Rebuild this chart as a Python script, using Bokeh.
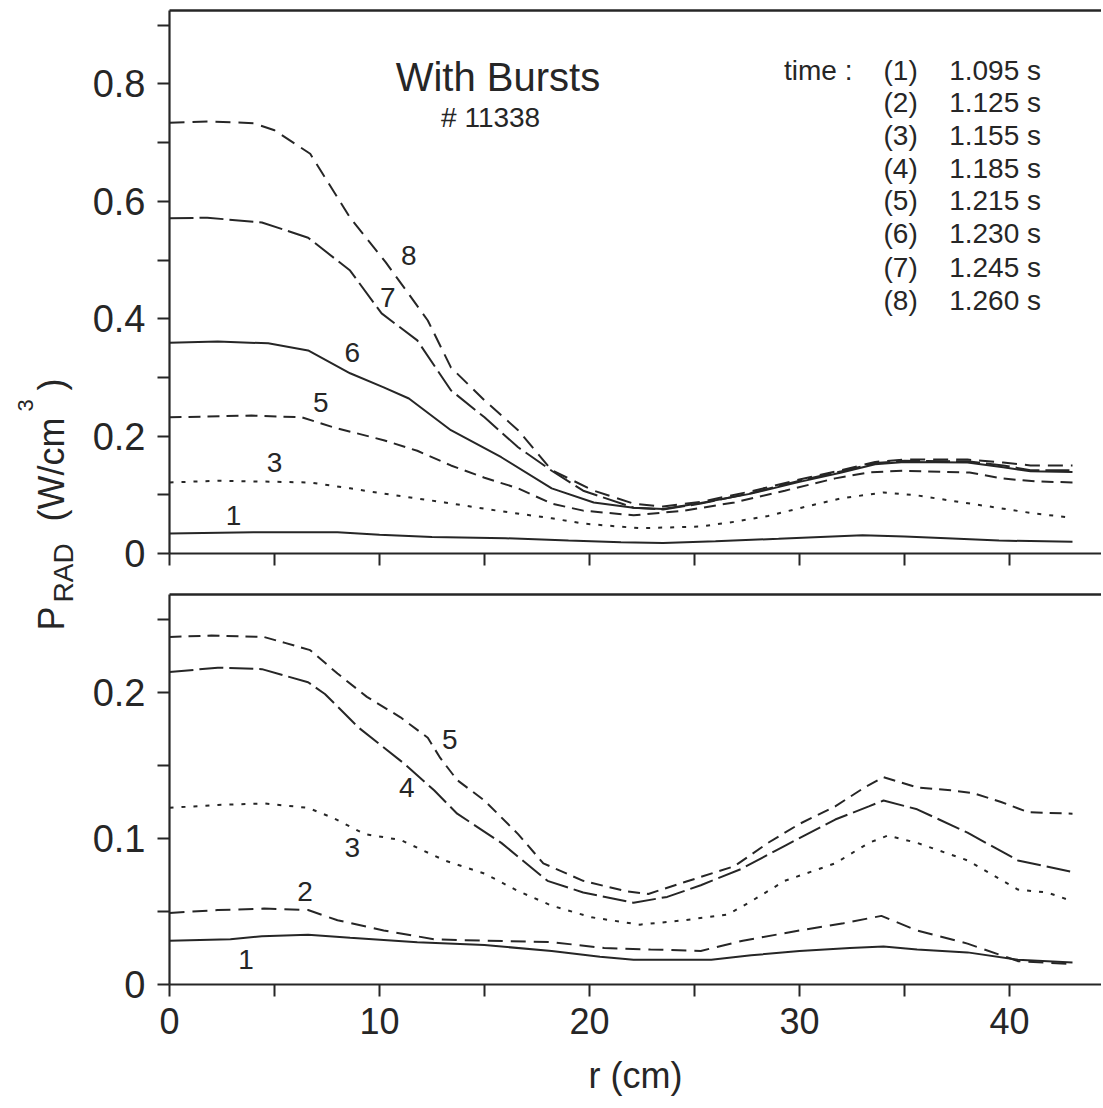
import math
from bokeh.plotting import figure
from bokeh.models import Range1d, FixedTicker, LinearAxis, CustomJSTickFormatter
from bokeh.layouts import row, column
from bokeh.core.properties import value
from bokeh.embed import file_html
from bokeh.resources import INLINE

# ---------------- data ----------------
# top panel: "With Bursts", shot 11338 ; r in cm, P_RAD in W/cm^3
r_t1 = [0, 4, 8, 10, 12.5, 16, 19, 21.5, 23.5, 26, 29, 33, 35, 37, 39.5, 43]
p_t1 = [0.034, 0.036, 0.036, 0.032, 0.028, 0.026, 0.022, 0.019, 0.018, 0.021, 0.025, 0.031, 0.029, 0.026, 0.022, 0.020]

r_t3 = [0, 2.3, 6.7, 8.6, 10.2, 13.1, 15.6, 18.2, 19.7, 22.4, 25.3, 26.9, 28.5, 30.1, 32, 34, 35.6, 37.2, 39.6, 41.2, 43]
p_t3 = [0.121, 0.124, 0.121, 0.111, 0.102, 0.087, 0.073, 0.060, 0.051, 0.043, 0.046, 0.054, 0.064, 0.078, 0.094, 0.104, 0.099, 0.090, 0.077, 0.068, 0.061]

r_t5 = [0, 3.9, 6.3, 7.8, 10.2, 11.8, 13.4, 15, 16.6, 18.2, 19.7, 22.1, 24.5, 26.9, 29.3, 31.7, 33.3, 34.9, 38.1, 39.6, 41.2, 43]
p_t5 = [0.232, 0.235, 0.232, 0.215, 0.193, 0.175, 0.150, 0.129, 0.111, 0.085, 0.073, 0.065, 0.073, 0.087, 0.107, 0.128, 0.138, 0.141, 0.138, 0.128, 0.123, 0.121]

r_t6 = [0, 2.3, 4.7, 6.6, 8.6, 10.2, 11.4, 13.4, 15.8, 18.2, 20.2, 22.1, 23.5, 25.3, 27.7, 30, 32, 33.6, 35, 38, 39.7, 41, 43]
p_t6 = [0.359, 0.361, 0.358, 0.346, 0.307, 0.283, 0.264, 0.210, 0.164, 0.111, 0.087, 0.078, 0.076, 0.086, 0.102, 0.122, 0.138, 0.152, 0.156, 0.155, 0.147, 0.140, 0.139]

r_t7 = [0, 1.8, 4.4, 6.6, 8.6, 10.1, 11.8, 13.4, 15, 16.6, 18.2, 19.7, 22.1, 23.5, 25.3, 27.7, 30, 32, 33.6, 35, 38, 39.7, 41, 43]
p_t7 = [0.571, 0.572, 0.564, 0.538, 0.482, 0.409, 0.363, 0.278, 0.232, 0.181, 0.141, 0.107, 0.078, 0.075, 0.085, 0.103, 0.124, 0.140, 0.154, 0.158, 0.157, 0.150, 0.142, 0.142]

r_t8 = [0, 2, 4, 5, 6.7, 8.6, 10.3, 12.3, 13.4, 15, 16.6, 18.2, 20.2, 22.1, 23.5, 25.3, 27.7, 30, 32, 33.6, 35, 38, 39.7, 41, 43]
p_t8 = [0.734, 0.736, 0.733, 0.721, 0.681, 0.572, 0.496, 0.397, 0.317, 0.261, 0.210, 0.142, 0.107, 0.085, 0.080, 0.088, 0.106, 0.126, 0.142, 0.156, 0.160, 0.160, 0.155, 0.150, 0.150]

# bottom panel
r_b1 = [0, 2.9, 4.4, 6.6, 8.6, 11.8, 15, 18.2, 20.5, 22.1, 25.8, 27.7, 30, 32.4, 34, 35.6, 38, 40.4, 43]
p_b1 = [0.030, 0.031, 0.033, 0.034, 0.032, 0.029, 0.027, 0.023, 0.019, 0.017, 0.017, 0.020, 0.023, 0.025, 0.026, 0.024, 0.022, 0.017, 0.015]

r_b2 = [0, 2.3, 4.5, 6.6, 8, 10.2, 12.6, 15, 18.2, 20.7, 22.9, 25.3, 27.3, 30, 32.1, 33.9, 35.6, 38, 40.4, 43]
p_b2 = [0.049, 0.051, 0.052, 0.051, 0.044, 0.037, 0.031, 0.030, 0.029, 0.025, 0.024, 0.023, 0.030, 0.037, 0.042, 0.047, 0.037, 0.028, 0.016, 0.014]

r_b3 = [0, 2.3, 4.5, 6.6, 7.8, 9.3, 11, 13.1, 15, 16.6, 18.2, 20.1, 22.4, 24.5, 26.6, 27.7, 29.3, 31.7, 33.3, 34.2, 35.6, 38, 40.4, 41.8, 43]
p_b3 = [0.121, 0.123, 0.124, 0.121, 0.114, 0.103, 0.099, 0.085, 0.076, 0.064, 0.054, 0.046, 0.041, 0.044, 0.048, 0.057, 0.071, 0.083, 0.097, 0.102, 0.097, 0.085, 0.065, 0.063, 0.057]

r_b4 = [0, 2.3, 4.4, 6.6, 7.4, 9, 11.2, 12.6, 13.7, 15.8, 18, 19.7, 22.1, 23.7, 25.3, 27.2, 29.3, 31.7, 33.3, 34, 35.6, 38, 40.4, 43]
p_b4 = [0.214, 0.217, 0.216, 0.207, 0.199, 0.176, 0.151, 0.133, 0.117, 0.097, 0.071, 0.063, 0.056, 0.060, 0.068, 0.079, 0.095, 0.113, 0.122, 0.126, 0.120, 0.104, 0.085, 0.077]

r_b5 = [0, 2, 4.5, 5.5, 6.7, 8, 9.4, 11, 12.3, 12.9, 13.7, 15, 16.6, 17.8, 19.7, 21.7, 22.8, 24.5, 26.9, 28.5, 30, 31.7, 33.1, 34, 35.6, 37.2, 38.3, 39.6, 40.9, 43]
p_b5 = [0.238, 0.239, 0.238, 0.234, 0.229, 0.213, 0.197, 0.183, 0.169, 0.155, 0.140, 0.126, 0.103, 0.083, 0.071, 0.064, 0.062, 0.070, 0.081, 0.097, 0.110, 0.122, 0.135, 0.142, 0.135, 0.133, 0.131, 0.125, 0.118, 0.117]

legend_ids = ["(1)", "(2)", "(3)", "(4)", "(5)", "(6)", "(7)", "(8)"]
legend_times = ["1.095 s", "1.125 s", "1.155 s", "1.185 s", "1.215 s", "1.230 s", "1.245 s", "1.260 s"]

x_ticks = [0, 10, 20, 30, 40]
x_minor = [5, 15, 25, 35]
y_top_ticks = [0, 0.2, 0.4, 0.6, 0.8]
y_top_minor = [0.1, 0.3, 0.5, 0.7, 0.9]
y_bot_ticks = [0, 0.1, 0.2]
y_bot_minor = [0.05, 0.15, 0.25]

# ---------------- styling ----------------
INK = "#262626"
FONT = "Liberation Sans"
SOLID = "solid"
DOT = "4 8"
DASH = "12 7"
DASH8 = "15 8"
LONG = "24 6"
LW = 2.0

FW = 932
FH_TOP = 543
FH_BOT = 390
LEFT = 91
TOP1, BOT1 = 10, 25
TOP2, BOT2 = 16, 122
LABW = 78
H_TOTAL = TOP1 + FH_TOP + BOT1 + TOP2 + FH_BOT + BOT2

x_range = Range1d(0, FW / 21.0)


def style_axes(p, yt, ym, xlabels):
    p.outline_line_color = None
    p.grid.visible = False
    p.background_fill_color = "white"
    p.border_fill_color = "white"
    xa = p.below[0]
    ya = p.left[0]
    for ax in (xa, ya):
        ax.axis_line_color = INK
        ax.axis_line_width = 2.2
        ax.major_tick_line_color = INK
        ax.minor_tick_line_color = INK
        ax.major_tick_line_width = 2
        ax.minor_tick_line_width = 2
        ax.major_tick_in = 0
        ax.minor_tick_in = 0
        ax.major_tick_out = 12
        ax.minor_tick_out = 12
        ax.major_label_text_color = INK
        ax.major_label_text_font = FONT
    ya.ticker = FixedTicker(ticks=yt, minor_ticks=ym)
    ya.formatter = CustomJSTickFormatter(code="return tick == 0 ? '0' : tick.toFixed(1)")
    ya.major_label_text_font_size = "38px"
    ya.major_label_standoff = 12
    if xlabels:
        xa.ticker = FixedTicker(ticks=x_ticks, minor_ticks=x_minor)
        xa.major_label_text_font_size = "36px"
        xa.major_label_standoff = 11
    else:
        xa.ticker = FixedTicker(ticks=[], minor_ticks=x_ticks + x_minor)
    top = LinearAxis(ticker=FixedTicker(ticks=[]), axis_line_color=INK, axis_line_width=2.6,
                     major_tick_line_color=None, minor_tick_line_color=None,
                     major_label_text_font_size="0px")
    p.add_layout(top, "above")


def mk(fh, y_end, tb, bb):
    return figure(frame_width=FW, frame_height=fh, x_range=x_range, y_range=Range1d(0, y_end),
                  toolbar_location=None, tools="", output_backend="svg",
                  min_border_left=LEFT, min_border_right=0, min_border_top=tb, min_border_bottom=bb)


# ---------------- top panel ----------------
p1 = mk(FH_TOP, FH_TOP / 587.0, TOP1, BOT1)
style_axes(p1, y_top_ticks, y_top_minor, False)
for r, v, d in [(r_t1, p_t1, SOLID), (r_t3, p_t3, DOT), (r_t5, p_t5, DASH), (r_t6, p_t6, SOLID),
                (r_t7, p_t7, LONG), (r_t8, p_t8, DASH8)]:
    p1.line(r, v, line_color=INK, line_width=LW, line_dash=d)

p1.text(x=[3.05, 5.0, 7.2, 8.7, 10.4, 11.4], y=[0.065, 0.155, 0.257, 0.342, 0.436, 0.508],
        text=["1", "3", "5", "6", "7", "8"], text_font=value(FONT), text_font_size="28px",
        text_align="center", text_baseline="middle", text_color=INK)
p1.text(x=[15.64], y=[0.8126], text=["With Bursts"], text_font=value(FONT), text_font_size="40px",
        text_align="center", text_baseline="alphabetic", text_color=INK)
p1.text(x=[12.93], y=[0.743], text=["# 11338"], text_font=value(FONT), text_font_size="28px",
        text_align="left", text_baseline="alphabetic", text_color=INK)
leg_y = [0.823, 0.768, 0.712, 0.656, 0.601, 0.545, 0.487, 0.431]
p1.text(x=[29.26], y=[leg_y[0]], text=["time :"], text_font=value(FONT), text_font_size="28px",
        text_align="left", text_baseline="alphabetic", text_color=INK)
p1.text(x=[34.0] * 8, y=leg_y, text=legend_ids, text_font=value(FONT), text_font_size="28px",
        text_align="left", text_baseline="alphabetic", text_color=INK)
p1.text(x=[41.5] * 8, y=leg_y, text=legend_times, text_font=value(FONT), text_font_size="28px",
        text_align="right", text_baseline="alphabetic", text_color=INK)

# ---------------- bottom panel ----------------
p2 = mk(FH_BOT, FH_BOT / 1460.0, TOP2, BOT2)
style_axes(p2, y_bot_ticks, y_bot_minor, True)
xa = p2.below[0]
xa.axis_label = "r (cm)"
xa.axis_label_text_font = FONT
xa.axis_label_text_font_style = "normal"
xa.axis_label_text_font_size = "36px"
xa.axis_label_text_color = INK
xa.axis_label_standoff = 18
for r, v, d in [(r_b1, p_b1, SOLID), (r_b2, p_b2, DASH8), (r_b3, p_b3, DOT), (r_b4, p_b4, LONG),
                (r_b5, p_b5, DASH)]:
    p2.line(r, v, line_color=INK, line_width=LW, line_dash=d)
p2.text(x=[3.65, 6.45, 8.7, 11.3, 13.35], y=[0.017, 0.064, 0.094, 0.135, 0.168],
        text=["1", "2", "3", "4", "5"], text_font=value(FONT), text_font_size="28px",
        text_align="center", text_baseline="middle", text_color=INK)

# ---------------- y-axis title (shared by both panels) ----------------
lab = figure(width=LABW, height=H_TOTAL, x_range=Range1d(0, LABW), y_range=Range1d(H_TOTAL, 0),
             toolbar_location=None, tools="", output_backend="svg", x_axis_type=None, y_axis_type=None,
             min_border=0)
lab.outline_line_color = None
lab.grid.visible = False
A = math.pi / 2
for tx, x, y, fs in [("P", 51, 630, "36px"), ("RAD", 63, 602, "28px"), ("(W/cm", 51, 521, "36px"),
                     ("3", 25, 411, "22px"), (")", 51, 390, "36px")]:
    lab.text(x=[x], y=[y], text=[tx], angle=A, text_font=value(FONT), text_font_size=fs,
             text_align="left", text_baseline="alphabetic", text_color=INK)

layout = row(lab, column(p1, p2))
open("out.html", "w").write(file_html(layout, INLINE))
